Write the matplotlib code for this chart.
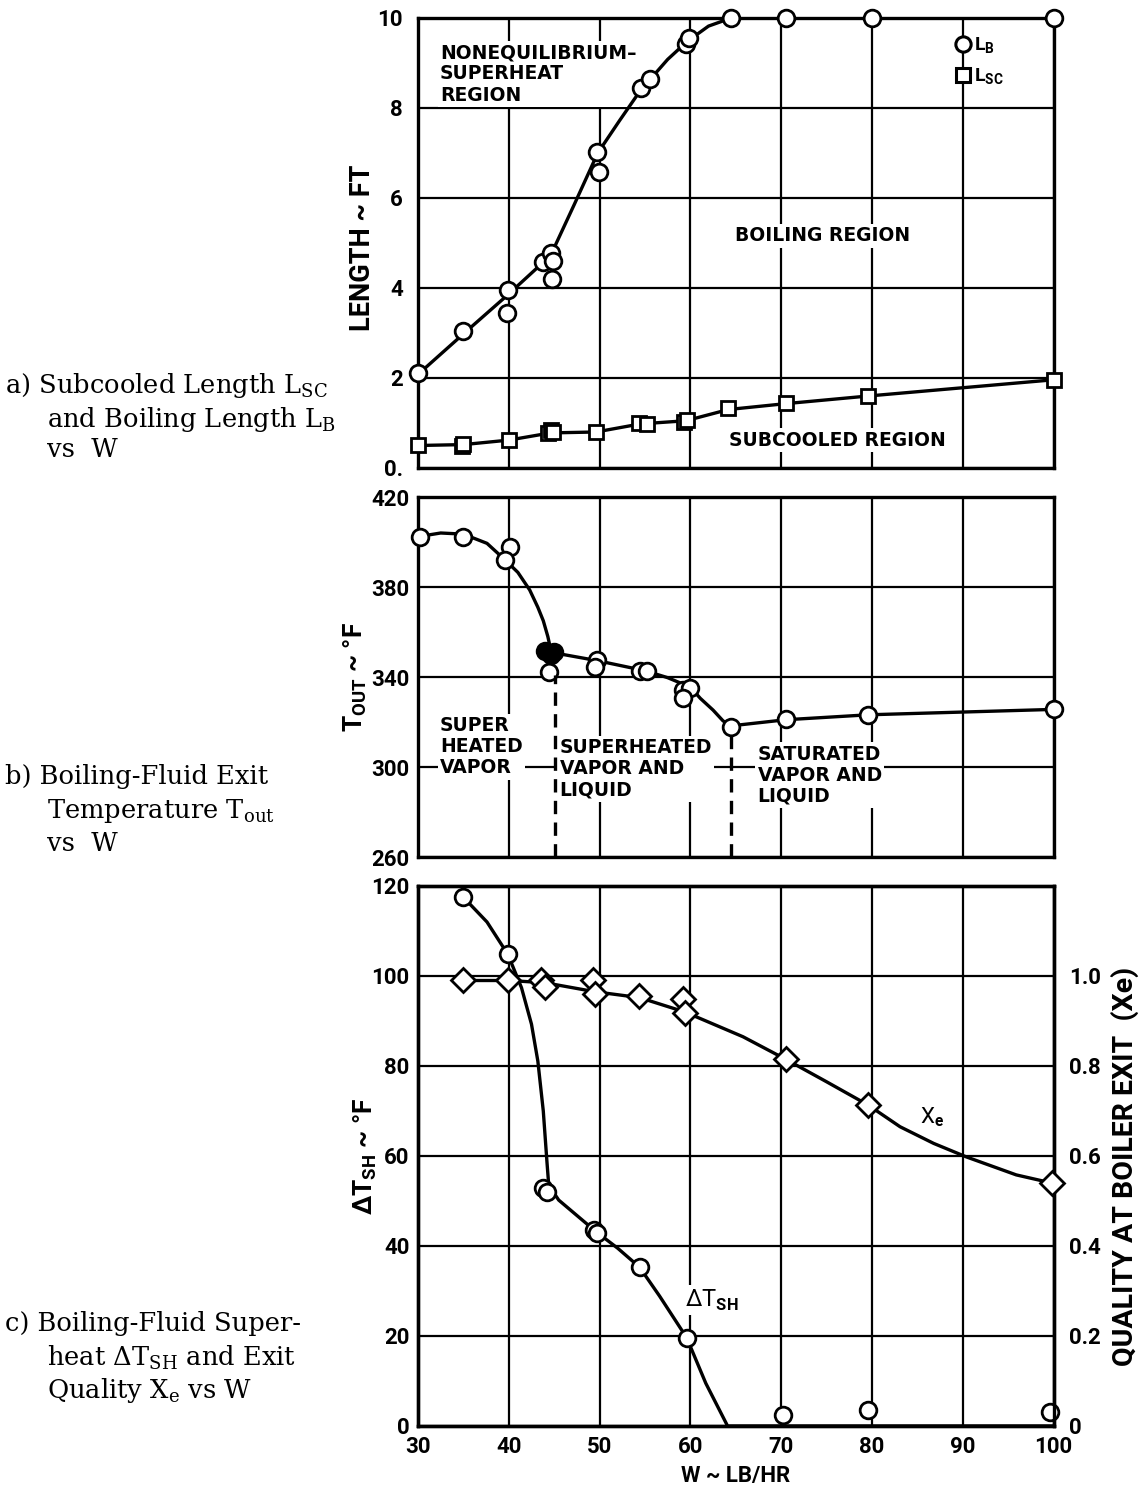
import matplotlib
matplotlib.use("Agg")
import matplotlib.pyplot as plt
from matplotlib.lines import Line2D

plt.rcParams["font.family"] = "DejaVu Sans"
plt.rcParams["mathtext.fontset"] = "custom"
plt.rcParams["mathtext.rm"] = "DejaVu Serif"
plt.rcParams["mathtext.sf"] = "Roboto:bold"

# ---- (a) subcooled and boiling lengths, ft ----
lb_w = [30, 35.0, 39.9, 39.8, 43.8, 44.6, 44.9, 44.75, 49.7, 49.9, 54.6, 55.5,
        59.5, 59.8, 64.5, 70.5, 80, 100]
lb_len = [2.1, 3.04, 3.96, 3.44, 4.58, 4.77, 4.6, 4.21, 7.03, 6.58, 8.44, 8.65,
          9.42, 9.55, 10.0, 10.0, 10.0, 10.0]
lb_fit_w = [30, 35, 39.9, 44.6, 47.2, 49.8, 52.2, 54.6, 55.5, 57.5, 59.6, 62, 64.5, 100]
lb_fit_len = [2.08, 2.98, 3.85, 4.72, 5.85, 7.0, 7.72, 8.42, 8.62, 9.08, 9.47, 9.82, 10.0, 10.0]

lsc_w = [30, 34.8, 35.0, 40, 44.3, 44.7, 44.9, 49.6, 54.3, 55.2, 59.3, 59.6,
         64.2, 70.5, 79.6, 100]
lsc_len = [0.52, 0.5, 0.53, 0.62, 0.78, 0.85, 0.8, 0.79, 1.0, 0.98, 1.03, 1.07,
           1.33, 1.44, 1.6, 1.96]
lsc_fit_w = [30, 35, 40, 44.6, 49.6, 54.5, 59.5, 64.2, 70.5, 79.6, 100]
lsc_fit_len = [0.5, 0.52, 0.62, 0.78, 0.8, 0.98, 1.05, 1.3, 1.43, 1.6, 1.96]

# ---- (b) boiling-fluid exit temperature, deg F ----
tout_w = [30.2, 35.0, 40.1, 39.6, 44.4, 49.7, 49.5, 54.4, 55.2, 59.2, 60.0, 59.2,
          64.5, 70.5, 79.6, 100]
tout_f = [402.1, 402.4, 397.9, 392.0, 342.4, 347.6, 344.6, 342.8, 342.8, 334.2,
          335.0, 330.5, 317.9, 321.2, 323.1, 325.6]
tout_solid_w = [44.0, 44.6, 45.0]
tout_solid_f = [351.5, 350.0, 351.0]
tout_fit_w = [30.2, 32.5, 35, 37.6, 39.6, 41, 42.3, 43.2, 43.8, 44.3, 44.6, 45.3,
              49.7, 55.0, 57.5, 60, 61.1, 62.5, 63.6, 64.5, 70.5, 79.6, 100]
tout_fit_f = [402.5, 404, 403.5, 399.4, 392, 386.5, 378.7, 371, 365, 358, 352.5, 350.5,
              347.3, 342.8, 339.7, 335.5, 330.5, 325.3, 320.5, 318.3, 321, 323.2, 325.6]
# regime boundaries (dashed)
bound_w = [45.1, 64.5]
bound_top = [341, 316]

# ---- (c) superheat and exit quality ----
dtsh_w = [35.0, 39.9, 43.8, 44.2, 49.4, 49.7, 54.4, 59.6, 70.2, 79.6, 99.6]
dtsh_f = [117.5, 104.8, 52.8, 52.0, 43.5, 42.9, 35.3, 19.6, 2.4, 3.6, 3.1]
dtsh_fit_w = [35, 37.6, 39.9, 41.4, 42.5, 43.2, 43.8, 44.2, 44.4, 45.5, 49.6, 52, 54.4,
              56.6, 59.6, 61.7, 64.1, 100]
dtsh_fit_f = [117.5, 112, 104.8, 97.4, 89.3, 81.1, 70, 58.8, 53.5, 50.2, 43.2, 39.5, 35.3,
              28.9, 19.6, 9.5, 0, 0]

xe_w = [35.0, 39.9, 43.6, 44.0, 49.3, 49.5, 54.3, 59.2, 59.4, 70.5, 79.6, 99.8]
xe = [0.99, 0.99, 0.99, 0.975, 0.99, 0.96, 0.955, 0.948, 0.917, 0.815, 0.713, 0.54]
xe_fit_w = [35, 40, 44, 49.5, 54.4, 59.4, 65.8, 70.5, 75, 79.6, 83.1, 86.8, 90.4, 95.9, 99.8]
xe_fit = [0.99, 0.99, 0.985, 0.965, 0.952, 0.92, 0.865, 0.815, 0.765, 0.713, 0.665,
          0.628, 0.598, 0.558, 0.54]

w_ticks = [30, 40, 50, 60, 70, 80, 90, 100]
len_ticks = [0, 2, 4, 6, 8, 10]
len_labels = ["0.", "2", "4", "6", "8", "10"]
t_ticks = [260, 300, 340, 380, 420]
dt_ticks = [0, 20, 40, 60, 80, 100, 120]
xe_ticks = [0, 0.2, 0.4, 0.6, 0.8, 1.0]
xe_labels = ["0", "0.2", "0.4", "0.6", "0.8", "1.0"]

W, H = 1141, 1489
NUM_FONT = ["Roboto", "DejaVu Sans"]
LW_CURVE = 2.4
box = dict(boxstyle="square,pad=0.12", fc="white", ec="none")
region = dict(fontsize=13.5, fontweight="bold", linespacing=1.15, bbox=box)
axlabel = dict(family=NUM_FONT, fontweight="bold", va="center")


def px(x, y):
    return x / W, 1 - y / H


def frame(ax, y_ticks, y_labels=None, pad=6):
    ax.set_xlim(30, 100)
    ax.set_xticks(w_ticks)
    ax.set_yticks(y_ticks)
    if y_labels is not None:
        ax.set_yticklabels(y_labels)
    ax.grid(True, color="black", lw=1.6)
    ax.set_axisbelow(True)
    for s in ax.spines.values():
        s.set_linewidth(2.4)
    ax.tick_params(axis="y", length=0, labelsize=16, pad=pad)
    ax.tick_params(axis="x", length=0, labelsize=16, pad=7)
    for lbl in ax.get_xticklabels() + ax.get_yticklabels():
        lbl.set_fontfamily(NUM_FONT)
        lbl.set_fontweight("bold")


def markers(ax, x, y, m, ms, fill="white"):
    ax.plot(x, y, m, ms=ms, mfc=fill, mec="black", mew=2.0, ls="none",
            zorder=5, clip_on=False)


fig = plt.figure(figsize=(W / 100, H / 100), dpi=100)
left, width = 418 / W, 635.5 / W

# (a)
ax_a = fig.add_axes([left, 1 - 468 / H, width, 450 / H])
ax_a.set_ylim(0, 10)
frame(ax_a, len_ticks, len_labels, pad=11)
ax_a.tick_params(labelbottom=False)
ax_a.plot(lb_fit_w, lb_fit_len, color="black", lw=LW_CURVE, zorder=4)
ax_a.plot(lsc_fit_w, lsc_fit_len, color="black", lw=LW_CURVE, zorder=4)
markers(ax_a, lb_w, lb_len, "o", 12)
markers(ax_a, lsc_w, lsc_len, "s", 10.5)
ax_a.set_ylabel("LENGTH ~ FT", fontsize=19.5, **axlabel)
ax_a.yaxis.set_label_coords(-0.0866, 0.49)
ax_a.text(32.4, 9.44, "NONEQUILIBRIUM\u2013\nSUPERHEAT\nREGION", va="top", ha="left",
          **region)
ax_a.text(74.6, 5.16, "BOILING REGION", ha="center", va="center", **region)
ax_a.text(76.2, 0.62, "SUBCOOLED REGION", ha="center", va="center", **region)
handles = [Line2D([], [], marker="o", ms=11, mfc="white", mec="black", mew=2.2, ls="none"),
           Line2D([], [], marker="s", ms=10, mfc="white", mec="black", mew=2.2, ls="none")]
ax_a.legend(handles, ["L$_{\\mathsf{B}}$", "L$_{\\mathsf{SC}}$"], loc="upper left",
            bbox_to_anchor=(0.845, 0.96), frameon=False, handlelength=0.8,
            handletextpad=0.2, borderpad=0, borderaxespad=0, labelspacing=0.55,
            prop=dict(family="Roboto", weight="bold", size=14))

# (b)
ax_b = fig.add_axes([left, 1 - 857 / H, width, 360 / H])
ax_b.set_ylim(260, 420)
frame(ax_b, t_ticks)
ax_b.tick_params(labelbottom=False)
ax_b.plot(tout_fit_w, tout_fit_f, color="black", lw=LW_CURVE, zorder=4)
ax_b.vlines(bound_w, 260, bound_top, colors="black", lw=2.4, linestyles=(0, (4, 2.5)),
            zorder=6)
markers(ax_b, tout_w, tout_f, "o", 12)
markers(ax_b, tout_solid_w, tout_solid_f, "o", 12, fill="black")
ax_b.set_ylabel("T$_{\\mathsf{OUT}}$ ~ \u00b0F", fontsize=19, **axlabel)
ax_b.yaxis.set_label_coords(-0.099, 0.5)
ax_b.text(32.4, 322.7, "SUPER\nHEATED\nVAPOR", va="top", ha="left", **region)
ax_b.text(45.6, 313, "SUPERHEATED\nVAPOR AND\nLIQUID", va="top", ha="left", **region)
ax_b.text(67.4, 310, "SATURATED\nVAPOR AND\nLIQUID", va="top", ha="left", **region)

# (c)
ax_c = fig.add_axes([left, 1 - 1426 / H, width, 540 / H])
ax_c.set_ylim(0, 120)
frame(ax_c, dt_ticks)
ax_c.plot(dtsh_fit_w, dtsh_fit_f, color="black", lw=LW_CURVE, zorder=4)
markers(ax_c, dtsh_w, dtsh_f, "o", 12)
ax_c.set_ylabel("\u0394T$_{\\mathsf{SH}}$ ~ \u00b0F", fontsize=19, **axlabel)
ax_c.yaxis.set_label_coords(-0.083, 0.5)
ax_c.set_xlabel("W ~ LB/HR", fontsize=16, family=NUM_FONT, fontweight="bold", labelpad=5)
ax_c.text(62.4, 28, "\u0394T$_{\\mathsf{SH}}$", fontsize=17, family=NUM_FONT,
          ha="center", va="center", bbox=box)

ax_x = ax_c.twinx()
ax_x.set_ylim(0, 1.2)
ax_x.set_yticks(xe_ticks)
ax_x.set_yticklabels(xe_labels)
ax_x.tick_params(length=0, labelsize=16, pad=11)
for lbl in ax_x.get_yticklabels():
    lbl.set_fontfamily(NUM_FONT)
    lbl.set_fontweight("bold")
for s in ax_x.spines.values():
    s.set_linewidth(2.4)
ax_x.plot(xe_fit_w, xe_fit, color="black", lw=LW_CURVE, zorder=4)
markers(ax_x, xe_w, xe, "D", 12)
ax_x.text(86.6, 0.687, "X$_{\\mathsf{e}}$", fontsize=16, family=NUM_FONT,
          ha="center", va="center")
ax_x.set_ylabel("QUALITY AT BOILER EXIT  (Xe)", fontsize=20.5, rotation=90, **axlabel)
ax_x.yaxis.set_label_coords(1.113, 0.48)

# captions
cap = dict(fontsize=18.5, family="DejaVu Serif", va="baseline", ha="left")
fig.text(*px(5, 393), "a) Subcooled Length L$_{\\mathrm{SC}}$", **cap)
fig.text(*px(47, 427), "and Boiling Length L$_{\\mathrm{B}}$", **cap)
fig.text(*px(47, 457), "vs  W", **cap)
fig.text(*px(5, 784), "b) Boiling-Fluid Exit", **cap)
fig.text(*px(47, 818), "Temperature T$_{\\mathrm{out}}$", **cap)
fig.text(*px(47, 851), "vs  W", **cap)
fig.text(*px(5, 1331), "c) Boiling-Fluid Super-", **cap)
fig.text(*px(47, 1365), "heat \u0394T$_{\\mathrm{SH}}$ and Exit", **cap)
fig.text(*px(47, 1398), "Quality X$_{\\mathrm{e}}$ vs W", **cap)

fig.savefig("out.png", dpi=100, facecolor="white")
